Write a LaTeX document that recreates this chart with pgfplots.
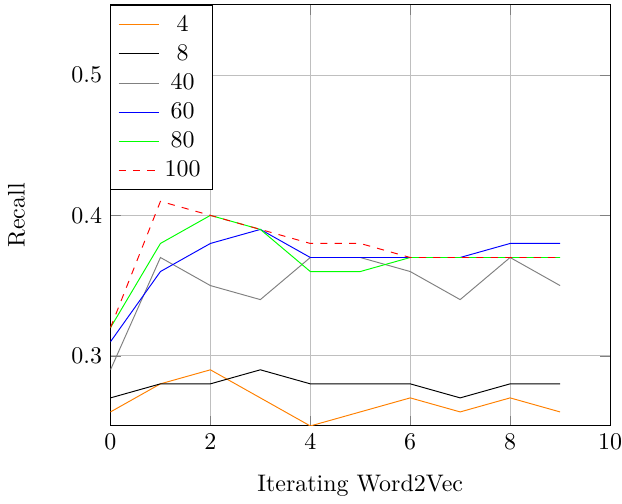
\documentclass[border=0pt]{standalone}
\usepackage{pgfplots}
\pgfplotsset{compat=1.18}
\begin{document}
\begin{tikzpicture}
\begin{axis}[
    scale only axis,
    width=208.75pt,
    height=176pt,
    xmin=0, xmax=10,
    ymin=0.25, ymax=0.55,
    xtick={0,2,4,6,8,10},
    ytick={0.3,0.4,0.5},
    grid=major,
    x tick label style={inner xsep=0pt},
    xlabel={Iterating Word2Vec},
    ylabel={Recall},
    xlabel style={yshift=-3.4pt},
    ylabel style={yshift=12.5pt},
    legend style={at={(0,1)}, anchor=north west},
    legend cell align=center,
]
\addplot[orange] coordinates {
    (0,0.26) (1,0.28) (2,0.29) (3,0.27) (4,0.25)
    (5,0.26) (6,0.27) (7,0.26) (8,0.27) (9,0.26)
};
\addlegendentry{4}
\addplot[black] coordinates {
    (0,0.27) (1,0.28) (2,0.28) (3,0.29) (4,0.28)
    (5,0.28) (6,0.28) (7,0.27) (8,0.28) (9,0.28)
};
\addlegendentry{8}
\addplot[gray] coordinates {
    (0,0.29) (1,0.37) (2,0.35) (3,0.34) (4,0.37)
    (5,0.37) (6,0.36) (7,0.34) (8,0.37) (9,0.35)
};
\addlegendentry{40}
\addplot[blue] coordinates {
    (0,0.31) (1,0.36) (2,0.38) (3,0.39) (4,0.37)
    (5,0.37) (6,0.37) (7,0.37) (8,0.38) (9,0.38)
};
\addlegendentry{60}
\addplot[green] coordinates {
    (0,0.32) (1,0.38) (2,0.40) (3,0.39) (4,0.36)
    (5,0.36) (6,0.37) (7,0.37) (8,0.37) (9,0.37)
};
\addlegendentry{80}
\addplot[red, dashed] coordinates {
    (0,0.32) (1,0.41) (2,0.40) (3,0.39) (4,0.38)
    (5,0.38) (6,0.37) (7,0.37) (8,0.37) (9,0.37)
};
\addlegendentry{100}
\end{axis}
\path ([yshift=2pt]current axis.north);
\end{tikzpicture}
\end{document}
